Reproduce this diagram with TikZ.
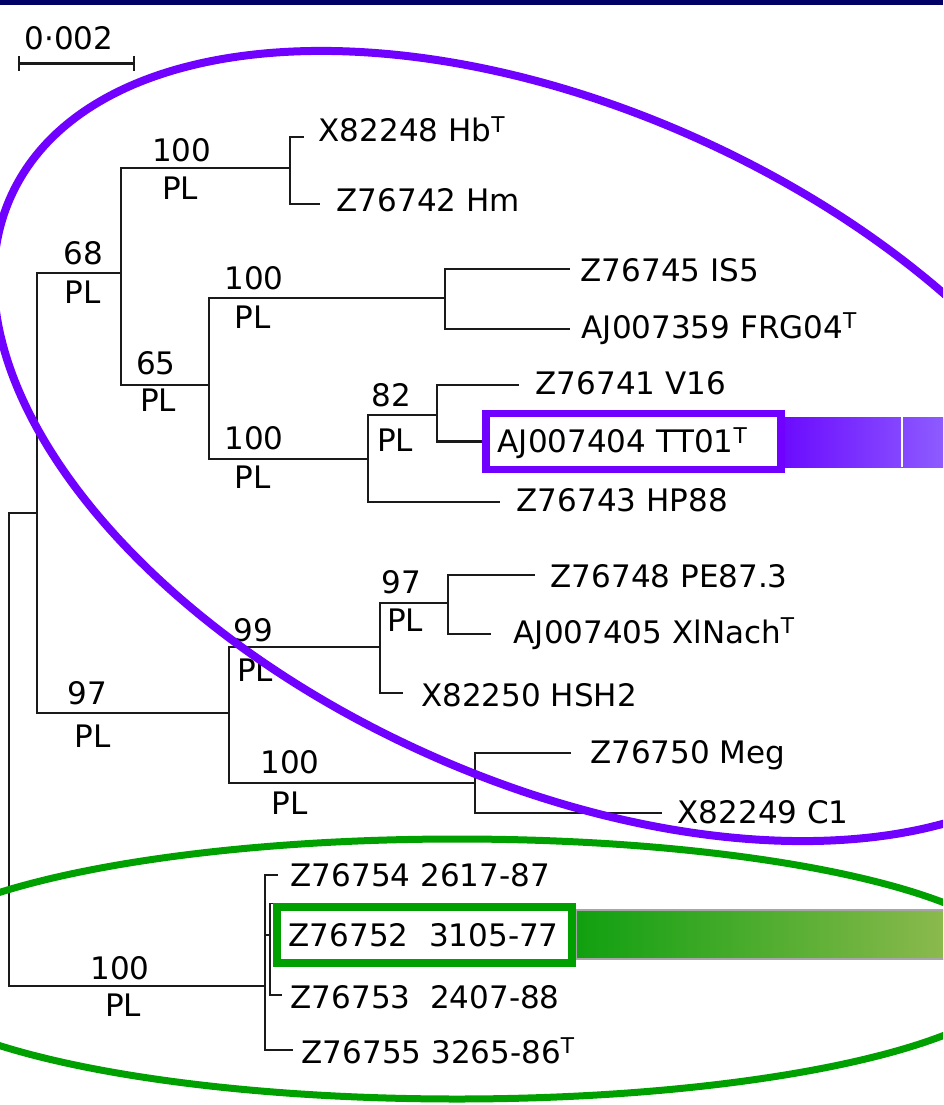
\documentclass[tikz,border=0pt]{standalone}
\usepackage{fontspec}
\setmainfont{DejaVu Sans}
\usetikzlibrary{arrows.meta}
\definecolor{navybar}{HTML}{000066}
\definecolor{violetring}{HTML}{7000FF}
\definecolor{greenring}{HTML}{00A000}
\definecolor{branchgray}{HTML}{1A1A1A}
\definecolor{violetA}{HTML}{6C0CFF}
\definecolor{violetB}{HTML}{8D5BFF}
\definecolor{greenA}{HTML}{10A010}
\definecolor{greenB}{HTML}{8BB94D}

\begin{document}
\begin{tikzpicture}[x=1pt, y=-1pt,
    branch/.style={draw=branchgray, line width=2.1pt},
    txt/.style={inner sep=0pt, text height=22pt, text depth=0pt, font=\fontsize{31}{37}\selectfont},
    leaf/.style={txt, anchor=west},
    boot/.style={txt, anchor=center},
    pick/.style={txt, anchor=west, draw=#1, line width=7.5pt, fill=white, minimum height=56pt,
                 inner xsep=12pt, text width=271pt, align=left}]
                \path[use as bounding box] (0,0) rectangle (943,1105);
                \clip (0,0) rectangle (943,1105);
                \fill[navybar] (0,0) rectangle (943,5);

                \coordinate (sL) at (18,63.5);
                \coordinate (sR) at (135,63.5);
                \coordinate (nR) at (9,750);
                \coordinate (nA) at (37,513);
                \coordinate (nB) at (121,273);
                \coordinate (nC) at (290,168);
                \coordinate (nD) at (209,385);
                \coordinate (nE) at (445,298);
                \coordinate (nF) at (368,459);
                \coordinate (nK) at (437,415);
                \coordinate (nH) at (229,713);
                \coordinate (nI) at (380,647);
                \coordinate (nL) at (448,603);
                \coordinate (nJ) at (475,783);
                \coordinate (nG) at (265,986);
                \coordinate (nS) at (270,935);
                \coordinate (lHb) at (304,137);
                \coordinate (lHm) at (320,204);
                \coordinate (lIS) at (570,269);
                \coordinate (lFRG) at (570,329);
                \coordinate (lV) at (519,385);
                \coordinate (lHP) at (500,502);
                \coordinate (lPE) at (535,575);
                \coordinate (lXl) at (491,634);
                \coordinate (lHSH) at (403,693);
                \coordinate (lMeg) at (571,753);
                \coordinate (lC) at (662,813);
                \coordinate (lPa) at (278,875);
                \coordinate (lPc) at (282,995);
                \coordinate (lPd) at (293,1050);

                \shade[left color=violetA, right color=violetB] (784,417) rectangle (943,467);
                \draw[white, line width=2.5pt] (902,417) -- (902,467);
                \shade[left color=greenA, right color=greenB] (576,910) rectangle (943,959);
                \draw[gray!70, line width=1.5pt] (576,910) rectangle (945,959);

                \node[pick=violetring] (tt01) at (482,441.5) {\mbox{AJ007404 TT01\textsuperscript{T}}};
                \node[pick=greenring] (z3105) at (273,935) {\mbox{Z76752~~3105-77}};

                \draw[branch, {Bar[width=15pt]}-{Bar[width=15pt]}] (sL) -- (sR);
                \draw[branch] (nR) |- (nA) (nR) |- (nG);
                \draw[branch] (nA) |- (nB) (nA) |- (nH);
                \draw[branch] (nB) |- (nC) (nB) |- (nD);
                \draw[branch] (nC) |- (lHb) (nC) |- (lHm);
                \draw[branch] (nD) |- (nE) (nD) |- (nF);
                \draw[branch] (nE) |- (lIS) (nE) |- (lFRG);
                \draw[branch] (nF) |- (nK) (nF) |- (lHP);
                \draw[branch] (nK) |- (lV) (nK) |- (tt01.west);
                \draw[branch] (nH) |- (nI) (nH) |- (nJ);
                \draw[branch] (nI) |- (nL) (nI) |- (lHSH);
                \draw[branch] (nL) |- (lPE) (nL) |- (lXl);
                \draw[branch] (nJ) |- (lMeg) (nJ) |- (lC);
                \draw[branch] (nG) |- (lPa) (nG) |- (nS) (nG) |- (lPd);
                \draw[branch, line width=1.4pt] (nS) |- (z3105.north west) (nS) |- (lPc);

                \node[boot] (scale) at (69,38.5) {0·002};
                \node[boot] (bC) at (181.7,150) {100};
                \node[boot] (pC) at (180,188) {PL};
                \node[boot] (bB) at (83.3,253.5) {68};
                \node[boot] (pB) at (82.7,292) {PL};
                \node[boot] (bE) at (254,278.5) {100};
                \node[boot] (pE) at (252.7,317) {PL};
                \node[boot] (bD) at (156,363.5) {65};
                \node[boot] (pD) at (158,400.5) {PL};
                \node[boot] (bK) at (391.7,395.5) {82};
                \node[boot] (pK) at (395,440.5) {PL};
                \node[boot] (bF) at (254,438.5) {100};
                \node[boot] (pF) at (252.7,477) {PL};
                \node[boot] (bI) at (253.3,630) {99};
                \node[boot] (pI) at (255,670) {PL};
                \node[boot] (bL) at (401.7,582.5) {97};
                \node[boot] (pL) at (405,620) {PL};
                \node[boot] (bH) at (87.3,693) {97};
                \node[boot] (pH) at (92.7,736) {PL};
                \node[boot] (bJ) at (290,762) {100};
                \node[boot] (pJ) at (289.3,803) {PL};
                \node[boot] (bG) at (120,968) {100};
                \node[boot] (pG) at (123,1005) {PL};

                \node[leaf] (tHb) at (318.5,131) {X82248 Hb\textsuperscript{T}};
                \node[leaf] (tHm) at (336.5,200) {Z76742 Hm};
                \node[leaf] (tIS) at (580.5,270) {Z76745 IS5};
                \node[leaf] (tFRG) at (581.5,327) {AJ007359 FRG04\textsuperscript{T}};
                \node[leaf] (tV) at (535.5,383) {Z76741 V16};
                \node[leaf] (tHP) at (516.5,500) {Z76743 HP88};
                \node[leaf] (tPE) at (550.5,576.5) {Z76748 PE87.3};
                \node[leaf] (tXl) at (513.5,632) {AJ007405 XlNach\textsuperscript{T}};
                \node[leaf] (tHSH) at (421,695) {X82250 HSH2};
                \node[leaf] (tMeg) at (590,752) {Z76750 Meg};
                \node[leaf] (tC) at (677.5,812) {X82249 C1};
                \node[leaf] (tPa) at (290.5,875) {Z76754 2617-87};
                \node[leaf] (tPc) at (290.5,997) {Z76753~~2407-88};
                \node[leaf] (tPd) at (301.5,1052) {Z76755 3265-86\textsuperscript{T}};

                \draw[greenring, line width=7pt] (457,969) ellipse [x radius=566pt, y radius=130pt];
                \draw[violetring, line width=8pt, rotate around={-24.4:(562,446)}] (562,446) ellipse [x radius=605pt, y radius=336pt];
\end{tikzpicture}
\end{document}
